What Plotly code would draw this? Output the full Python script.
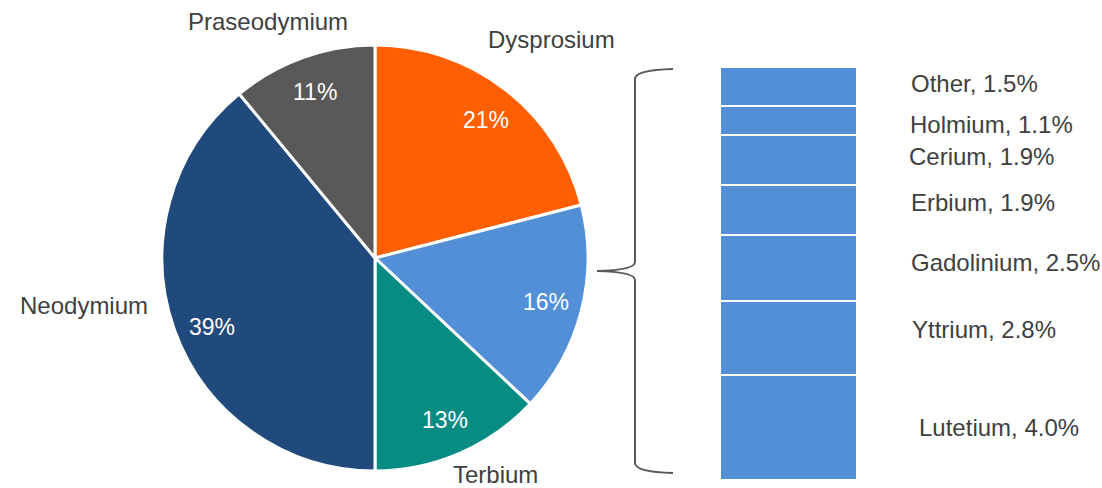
import math
import plotly.graph_objects as go

W, H = 1102, 488

# ---- data ----
pie_labels = ["Dysprosium", "Other REEs", "Terbium", "Neodymium", "Praseodymium"]
pie_values = [21, 16, 13, 39, 11]
pie_colors = ["#FF5F00", "#528FD6", "#078C84", "#214A7C", "#595959"]

bar_labels = ["Lutetium", "Yttrium", "Gadolinium", "Erbium", "Cerium", "Holmium", "Other"]
bar_values = [4.0, 2.8, 2.5, 1.9, 1.9, 1.1, 1.5]
bar_color = "#528FD6"

# ---- layout constants (pixels) ----
pie_cx, pie_cy, pie_r = 375, 258, 213
name_pos = {"Dysprosium": (551, 40), "Terbium": (495, 474),
            "Neodymium": (84, 305), "Praseodymium": (268, 22)}
pct_angle_nudge = [1, 0, 0, -3, 0]  # degrees
bar_x0, bar_x1, bar_y_top, bar_y_bot = 720, 857, 67, 480
bar_label_x = [917, 910, 909, 909, 907, 908, 909]
bar_label_nudge = [0, -8, -6, -8, -4, 4, -3]  # px, relative to segment centre

FONT = "Liberation Sans, Arial, sans-serif"
TXT = "#404040"
NAME_SIZE = 24
PCT_SIZE = 23


def px(x):
    return x / W


def py(y):
    return (H - y) / H


fig = go.Figure()

fig.add_trace(go.Pie(
    labels=pie_labels, values=pie_values, sort=False, direction="clockwise",
    rotation=0, textinfo="none", hoverinfo="label+percent",
    marker=dict(colors=pie_colors, line=dict(color="white", width=3)),
    domain=dict(x=[px(pie_cx - pie_r), px(pie_cx + pie_r)],
                y=[py(pie_cy + pie_r), py(pie_cy - pie_r)]),
    showlegend=False,
))

for name, val in zip(bar_labels, bar_values):
    fig.add_trace(go.Bar(
        x=[0], y=[val], name=name, marker=dict(color=bar_color, line=dict(color="white", width=2)),
        xaxis="x", yaxis="y", showlegend=False,
    ))

annotations = []
total = sum(pie_values)
cum = 0
for name, val, nud in zip(pie_labels, pie_values, pct_angle_nudge):
    mid = (cum + val / 2) / total * 2 * math.pi + math.radians(nud)
    cum += val
    rr = 0.83 * pie_r
    tx = pie_cx + rr * math.sin(mid)
    ty = pie_cy - rr * math.cos(mid)
    annotations.append(dict(x=px(tx), y=py(ty), xref="paper", yref="paper",
                            text=f"{round(val / total * 100)}%", showarrow=False,
                            font=dict(family=FONT, size=PCT_SIZE, color="white"),
                            xanchor="center", yanchor="middle"))
    if name in name_pos:
        nx, ny = name_pos[name]
        annotations.append(dict(x=px(nx), y=py(ny), xref="paper", yref="paper",
                                text=name, showarrow=False, borderpad=0,
                                font=dict(family=FONT, size=NAME_SIZE, color=TXT),
                                xanchor="center", yanchor="middle"))

bar_total = sum(bar_values)
unit = (bar_y_bot - bar_y_top) / bar_total
base = 0
for name, val, lx, nudge in zip(bar_labels, bar_values, bar_label_x, bar_label_nudge):
    centre_px = bar_y_bot - (base + val / 2) * unit + nudge
    base += val
    annotations.append(dict(x=px(lx), y=py(centre_px), xref="paper", yref="paper",
                            text=f"{name}, {val:.1f}%", showarrow=False,
                            font=dict(family=FONT, size=NAME_SIZE, color=TXT),
                            xanchor="left", yanchor="middle"))

brace_pts = ("M {a},{b} Q {c},{d} {c},{e} L {c},{f} Q {c},{g} {h},{i} "
             "Q {c},{j} {c},{k} L {c},{l} Q {c},{m} {a},{n}")
brace = brace_pts.format(
    a=px(673), b=py(69), c=px(635), d=py(70), e=py(79), f=py(262), g=py(270),
    h=px(597), i=py(271), j=py(272), k=py(280), l=py(463), m=py(472), n=py(473))

fig.update_layout(
    width=W, height=H, margin=dict(l=0, r=0, t=0, b=0),
    paper_bgcolor="white", plot_bgcolor="white",
    barmode="stack", bargap=0,
    xaxis=dict(domain=[px(bar_x0), px(bar_x1)], range=[-0.5, 0.5], visible=False, fixedrange=True),
    yaxis=dict(domain=[py(bar_y_bot), py(bar_y_top)], range=[0, bar_total], visible=False, fixedrange=True),
    annotations=annotations,
    shapes=[dict(type="path", path=brace, xref="paper", yref="paper",
                 line=dict(color="#595959", width=2))],
    font=dict(family=FONT),
)

fig.write_html("out.html")
